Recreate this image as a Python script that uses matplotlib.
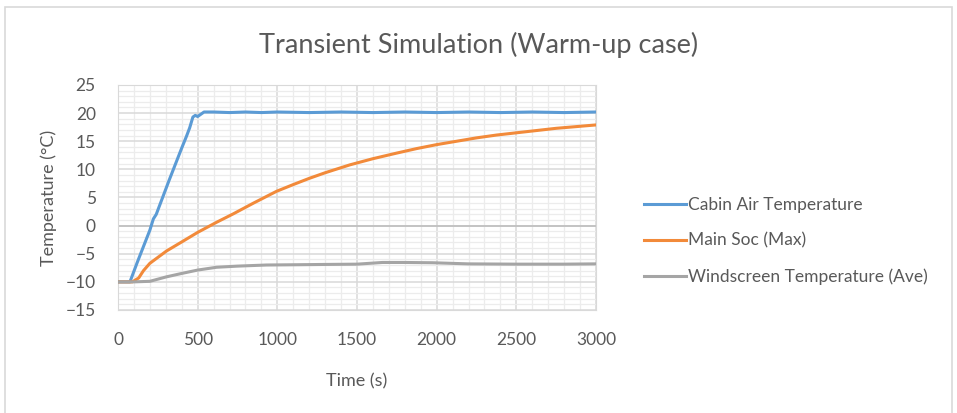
import matplotlib
matplotlib.use("Agg")
import matplotlib.pyplot as plt
from matplotlib.patches import Rectangle
from matplotlib.ticker import MultipleLocator

plt.rcParams['font.family'] = ['Lato', 'DejaVu Sans']

# values
cabin_t = [0, 75, 120, 160, 200, 222, 240, 280, 320, 360, 400, 430, 450, 470, 485, 500, 520, 540,
           600, 700, 800, 900, 1000, 1200, 1400, 1600, 1800, 2000, 2200, 2400, 2600, 2800, 3000]
cabin_v = [-10, -10, -6.6, -3.7, -0.8, 1.2, 2.0, 5.0, 8.0, 10.9, 13.8, 15.9, 17.4, 19.3, 19.6, 19.4, 19.8, 20.2,
           20.2, 20.1, 20.2, 20.1, 20.2, 20.1, 20.2, 20.1, 20.2, 20.1, 20.2, 20.1, 20.2, 20.1, 20.2]

soc_t = [0, 90, 130, 160, 200, 305, 400, 500, 619, 724, 850, 995, 1100, 1200, 1300, 1455, 1600, 1750,
         1875, 2000, 2125, 2250, 2375, 2500, 2625, 2750, 2875, 3000]
soc_v = [-10, -10, -9.3, -8.0, -6.7, -4.5, -2.9, -1.2, 0.6, 2.1, 4.0, 6.1, 7.3, 8.4, 9.4, 10.8, 11.9, 12.9,
         13.7, 14.4, 15.0, 15.6, 16.1, 16.5, 16.9, 17.3, 17.6, 17.9]

wind_t = [0, 100, 200, 305, 400, 500, 619, 750, 933, 1130, 1300, 1500, 1660, 1800, 1975, 2200, 2500, 2800, 3000]
wind_v = [-10, -10, -9.9, -9.1, -8.5, -7.9, -7.4, -7.2, -7.0, -6.95, -6.9, -6.85, -6.55, -6.55, -6.6, -6.8, -6.85, -6.85, -6.8]

series_names = ["Cabin Air Temperature", "Main Soc (Max)", "Windscreen Temperature (Ave)"]
colors = ["#5b9bd5", "#f28a3a", "#a5a5a5"]

x_ticks = [0, 500, 1000, 1500, 2000, 2500, 3000]
y_ticks = [25, 20, 15, 10, 5, 0, -5, -10, -15]

txt = "#595959"

fig = plt.figure(figsize=(9.57, 4.13), dpi=100)
fig.patches.append(Rectangle((5 / 957, -0.01), 947 / 957, 1 - 7 / 413 + 0.01, transform=fig.transFigure,
                             fill=False, edgecolor="#d9d9d9", linewidth=1.2))

ax = fig.add_axes([118 / 957, 1 - 310 / 413, (596 - 118) / 957, (310 - 85) / 413])

ax.plot(cabin_t, cabin_v, color=colors[0], lw=2.2, label=series_names[0], zorder=4)
ax.plot(soc_t, soc_v, color=colors[1], lw=2.2, label=series_names[1], zorder=4)
ax.plot(wind_t, wind_v, color=colors[2], lw=2.2, label=series_names[2], zorder=4)

ax.set_xlim(0, 3000)
ax.set_ylim(-15, 25)
ax.set_xticks(x_ticks)
ax.set_yticks(y_ticks)
ax.xaxis.set_minor_locator(MultipleLocator(100))
ax.yaxis.set_minor_locator(MultipleLocator(1))
ax.grid(which="major", color="#d9d9d9", lw=1.1, zorder=1)
ax.grid(which="minor", color="#ececec", lw=0.9, zorder=0)
ax.axhline(0, color="#bfbfbf", lw=1.2, zorder=2)
for s in ax.spines.values():
    s.set_color("#d9d9d9")
ax.tick_params(which="both", length=0, labelsize=12.5, labelcolor=txt, pad=16)
ax.tick_params(axis="y", pad=16)

fig.text(0.5, 1 - 45 / 413, "Transient Simulation (Warm-up case)", fontsize=19.5, color=txt,
         ha="center", va="center")
ax.set_xlabel("Time (s)", fontsize=13, color=txt, labelpad=18)
ax.set_ylabel("Temperature (°C)", fontsize=13, color=txt, labelpad=6)

leg = fig.legend(loc="center left", bbox_to_anchor=(644 / 957, 1 - 241 / 413), frameon=False, fontsize=12.5,
                 handlelength=2.4, handletextpad=0.15, labelspacing=1.12, labelcolor=txt,
                 borderpad=0, borderaxespad=0)

fig.savefig("out.png", dpi=100)
